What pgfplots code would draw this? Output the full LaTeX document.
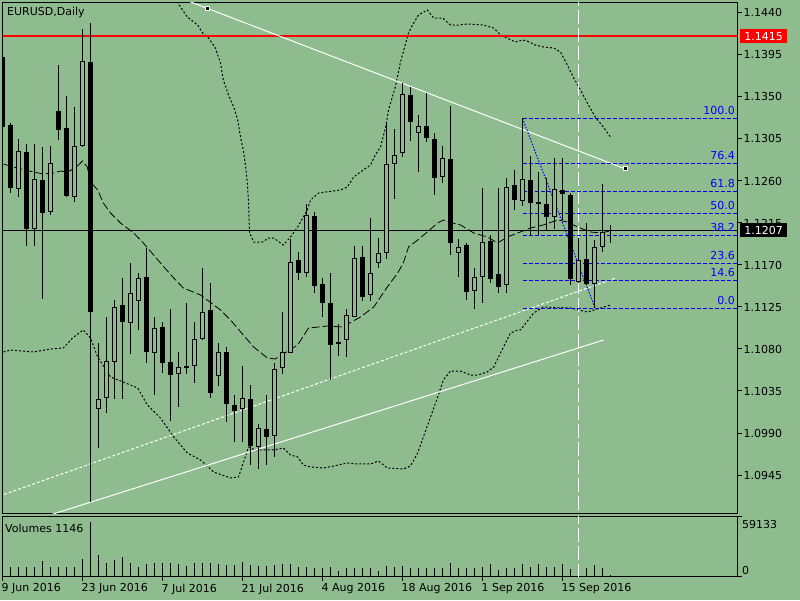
\documentclass[border=0pt]{standalone}
\usepackage{fontspec}
\setmainfont{DejaVu Sans}
\usepackage{pgfplots}
\pgfplotsset{compat=1.18}
\usepackage{pgfplotstable}
\definecolor{bg}{RGB}{143,188,143}
\definecolor{fibblue}{RGB}{0,0,255}
\definecolor{mtred}{RGB}{255,0,0}
\newcommand{\fs}{\fontsize{11}{13}\selectfont}
\tikzset{
  fib/.style={draw=fibblue, line width=1pt, dash pattern=on 4pt off 2pt},
  fiblab/.style={anchor=base east, inner sep=0pt, text=fibblue, font=\fs, yshift=4pt},
}

\pgfplotstableread{
i o h l c
0 1.13929 1.14004 1.13146 1.13179
1 1.13200 1.13221 1.12471 1.12525
2 1.12514 1.13050 1.12429 1.12921
3 1.12911 1.12996 1.11904 1.12086
4 1.12086 1.12996 1.11904 1.12621
5 1.12611 1.12964 1.11336 1.12257
6 1.12268 1.12975 1.12236 1.12793
7 1.13350 1.13843 1.13039 1.13146
8 1.13168 1.13511 1.12429 1.12439
9 1.12429 1.13393 1.12375 1.12975
10 1.12975 1.14229 1.12964 1.13886
11 1.13875 1.14293 1.09161 1.11196
12 1.10157 1.10864 1.09739 1.10264
13 1.10275 1.11143 1.10114 1.10671
14 1.10661 1.11325 1.10264 1.11250
15 1.11271 1.11561 1.10264 1.11089
16 1.11079 1.11721 1.10746 1.11400
17 1.11314 1.11614 1.11004 1.11561
18 1.11571 1.11882 1.10650 1.10768
19 1.10757 1.11143 1.10307 1.11025
20 1.11036 1.11089 1.10543 1.10650
21 1.10661 1.11229 1.10029 1.10521
22 1.10532 1.10768 1.10179 1.10607
23 1.10618 1.11293 1.10532 1.10596
24 1.10618 1.11089 1.10436 1.10907
25 1.10907 1.11668 1.10896 1.11196
26 1.11218 1.11507 1.10275 1.10329
27 1.10511 1.10864 1.10404 1.10768
28 1.10768 1.10821 1.10018 1.10211
29 1.10200 1.10307 1.09804 1.10136
30 1.10157 1.10618 1.09804 1.10275
31 1.10264 1.10414 1.09557 1.09761
32 1.09750 1.09996 1.09514 1.09954
33 1.09943 1.10307 1.09557 1.09857
34 1.09868 1.10650 1.09643 1.10586
35 1.10596 1.11196 1.10532 1.10768
36 1.10757 1.11979 1.10757 1.11732
37 1.11754 1.11839 1.11539 1.11614
38 1.11614 1.12354 1.11571 1.12236
39 1.12225 1.12268 1.11400 1.11475
40 1.11496 1.11561 1.11143 1.11293
41 1.11293 1.11614 1.10468 1.10843
42 1.10854 1.11068 1.10725 1.10875
43 1.10896 1.11229 1.10714 1.11164
44 1.11143 1.11904 1.11143 1.11775
45 1.11786 1.11904 1.11314 1.11357
46 1.11379 1.12204 1.11314 1.11614
47 1.11721 1.11989 1.11668 1.11829
48 1.11829 1.13221 1.11764 1.12782
49 1.12782 1.13157 1.12407 1.12879
50 1.12900 1.13650 1.12857 1.13532
51 1.13521 1.13607 1.13029 1.13232
52 1.13114 1.13307 1.12696 1.13189
53 1.13189 1.13543 1.13018 1.13061
54 1.13050 1.13114 1.12450 1.12632
55 1.12643 1.12975 1.12579 1.12846
56 1.12836 1.13404 1.11807 1.11936
57 1.11829 1.11979 1.11571 1.11893
58 1.11914 1.11936 1.11325 1.11411
59 1.11421 1.11668 1.11229 1.11571
60 1.11571 1.12525 1.11293 1.11946
61 1.11957 1.12021 1.11507 1.11550
62 1.11604 1.12525 1.11400 1.11464
63 1.11486 1.12632 1.11400 1.12536
64 1.12557 1.12718 1.12289 1.12396
65 1.12386 1.13275 1.12332 1.12621
66 1.12611 1.12868 1.12011 1.12364
67 1.12375 1.12696 1.12021 1.12354
68 1.12354 1.12632 1.12075 1.12214
69 1.12214 1.12846 1.12086 1.12514
70 1.12504 1.12846 1.12182 1.12461
71 1.12450 1.12471 1.11486 1.11550
72 1.11518 1.11989 1.11507 1.11754
73 1.11764 1.12150 1.11486 1.11496
74 1.11496 1.11968 1.11239 1.11893
75 1.11893 1.12568 1.11839 1.12054
76 1.12075 1.12129 1.11936 1.12075
}\candles

\pgfplotstableread{
i v
0 9855
1 9855
2 9855
3 9855
4 9855
5 15768
6 9855
7 9855
8 9855
9 9855
10 17050
11 54203
12 21386
13 13797
14 16458
15 19414
16 13107
17 9165
18 12122
19 13107
20 13797
21 13107
22 12122
23 10841
24 13797
25 13797
26 13797
27 12122
28 11530
29 11530
30 14783
31 11530
32 10841
33 10841
34 11530
35 12122
36 12516
37 9855
38 9165
39 8870
40 8870
41 9855
42 5913
43 8180
44 8180
45 8180
46 8870
47 5913
48 10545
49 9855
50 10545
51 8870
52 8870
53 8180
54 8870
55 8180
56 13797
57 8180
58 8870
59 8870
60 9855
61 12516
62 6603
63 8870
64 8870
65 12516
66 9855
67 12516
68 9855
69 9855
70 12516
71 7194
72 8870
73 8180
74 11530
75 8870
76 1146
}\volumes

\pgfplotstableread{
x p
20.4 1.14700
22 1.14497
23.1 1.14357
24.4 1.14271
25 1.14186
25.75 1.14132
26.6 1.14025
27.25 1.13864
27.6 1.13682
28.25 1.13522
28.9 1.13393
29.4 1.13254
29.75 1.13071
30.1 1.12932
30.4 1.12750
30.6 1.12579
30.75 1.12396
30.8 1.12214
30.9 1.12043
31.4 1.11946
32.5 1.11946
33.25 1.11989
33.9 1.11989
35.1 1.11914
36 1.12000
36.9 1.12107
38.1 1.12289
38.5 1.12396
39.5 1.12471
42.25 1.12504
43.1 1.12536
43.9 1.12643
45.1 1.12718
46 1.12771
46.6 1.12879
47.25 1.12964
47.9 1.13179
48.25 1.13361
49.1 1.13607
49.75 1.13875
50.4 1.14079
50.75 1.14186
51.25 1.14271
52 1.14379
53.1 1.14432
53.9 1.14346
55 1.14346
56 1.14271
57 1.14271
58.1 1.14282
60.1 1.14271
61.4 1.14239
62.25 1.14164
63.1 1.14132
64.1 1.14089
65 1.14111
65.6 1.14100
66.6 1.14057
67.6 1.14036
68.9 1.14025
69.75 1.13982
70.6 1.13843
71.4 1.13704
72.25 1.13575
73.1 1.13436
74.1 1.13286
75.1 1.13179
76 1.13071
}\bbupper

\pgfplotstableread{
x p
0.125 1.12782
1.4 1.12750
2.9 1.12718
3.9 1.12696
5.1 1.12675
6.4 1.12686
7.25 1.12707
8.1 1.12696
9.1 1.12739
10 1.12814
10.6 1.12750
11 1.12589
11.9 1.12504
12.6 1.12364
13.5 1.12257
14.75 1.12150
16.4 1.12043
17.6 1.11936
18.9 1.11807
19.75 1.11721
21.4 1.11561
22.6 1.11454
24.75 1.11379
25.6 1.11325
27.25 1.11218
28.5 1.11111
30.1 1.10950
31.4 1.10821
33.1 1.10704
34.1 1.10693
36.9 1.10843
38.25 1.11025
39.5 1.11036
40.6 1.11046
42.5 1.11036
44.75 1.11143
46.4 1.11250
48.1 1.11464
49.4 1.11614
50.1 1.11721
50.75 1.11893
51.9 1.11968
53.1 1.12054
54.4 1.12150
55.1 1.12182
56.25 1.12150
57.25 1.12129
58.9 1.12043
60.6 1.12000
61.9 1.11936
63.1 1.12000
64.4 1.12043
66 1.12096
67.6 1.12129
69.4 1.12182
70.6 1.12161
71.9 1.12107
73.5 1.12054
74.75 1.12043
76 1.12065
}\bbmiddle

\pgfplotstableread{
x p
0.125 1.10768
1 1.10789
3.9 1.10768
6 1.10800
7.6 1.10811
8.75 1.10918
10.1 1.11004
11 1.10918
11.9 1.10714
13.5 1.10500
15.1 1.10446
16.9 1.10382
18.1 1.10200
19.75 1.10061
21.4 1.09857
23.1 1.09686
24.75 1.09611
26.4 1.09482
28.5 1.09418
29.5 1.09429
30.1 1.09579
30.75 1.09750
31.6 1.09718
32.6 1.09718
33.9 1.09718
35.1 1.09739
36 1.09664
36.9 1.09643
37.6 1.09557
38.5 1.09536
40.1 1.09525
41.4 1.09546
43.1 1.09579
44.4 1.09568
46 1.09568
47 1.09600
48.1 1.09525
50.1 1.09514
51 1.09546
51.9 1.09686
52.6 1.09857
53.5 1.10071
54.4 1.10286
55.1 1.10468
56 1.10564
57.25 1.10564
58.5 1.10521
59.4 1.10521
60.6 1.10554
61.4 1.10607
62.25 1.10757
63.5 1.10971
64.4 1.11004
64.75 1.11004
66.4 1.11186
67.6 1.11250
71 1.11239
73.1 1.11196
74.75 1.11239
76 1.11271
}\bblower

\begin{document}
\begin{tikzpicture}
\fill[bg] (0,0) rectangle (800pt,600pt);
\useasboundingbox (0,0) rectangle (800pt,600pt);

\begin{axis}[
  name=main,
  at={(2.5pt,86.5pt)}, anchor=south west,
  width=735pt, height=511pt, scale only axis,
  xmin=0, xmax=91.875, ymin=1.090375, ymax=1.145125,
  axis background/.style={fill=bg},
  axis line style={black, line width=1pt},
  xtick=\empty,
  ytick={1.0945,1.0990,1.1035,1.1080,1.1125,1.1170,1.1215,1.1260,1.1305,1.1350,1.1395,1.1440},
  ytick pos=right, yticklabel pos=right,
  tick align=outside, major tick length=4pt,
  tick style={black, line width=1pt},
  scaled y ticks=false,
  /pgf/number format/assume math mode=true,
  yticklabel style={font=\fs, anchor=west, inner sep=0pt, xshift=2pt,
    /pgf/number format/fixed, /pgf/number format/fixed zerofill, /pgf/number format/precision=4},
]
% Bollinger bands
\addplot[black, line width=1pt, dash pattern=on 2pt off 2pt, forget plot] table[x=x,y=p] {\bbupper};
\addplot[black, line width=1pt, dash pattern=on 2pt off 2pt, forget plot] table[x=x,y=p] {\bblower};
\addplot[black, line width=0.8pt, dash pattern=on 8pt off 3pt, forget plot] table[x=x,y=p] {\bbmiddle};

% horizontal lines
\addplot[mtred, line width=2pt, forget plot] coordinates {(-1,1.1415) (93,1.1415)};
\addplot[black, line width=1pt, forget plot] coordinates {(-1,1.1207) (93,1.1207)};

% white trend lines
\addplot[white, line width=1pt, forget plot] coordinates {(5,1.08996) (75.125,1.10896)};
\addplot[white, line width=1pt, dash pattern=on 3pt off 2pt, forget plot] coordinates {(-1,1.09206) (76.6,1.11558)};
\addplot[white, line width=1pt, forget plot] coordinates {(22,1.14568) (77.875,1.12729)};

% vertical dashed line
\addplot[white, line width=1pt, dash pattern=on 14pt off 4pt, forget plot] coordinates {(72,1.085) (72,1.150)};

% Fibonacci retracement
\addplot[draw=fibblue, line width=1pt, dash pattern=on 1.5pt off 1.5pt, forget plot] coordinates {(65,1.13270) (74.1,1.11234)};
\addplot[fib, forget plot] coordinates {(65,1.132696) (93,1.132696)};
\addplot[fib, forget plot] coordinates {(65,1.127875) (93,1.127875)};
\addplot[fib, forget plot] coordinates {(65,1.124875) (93,1.124875)};
\addplot[fib, forget plot] coordinates {(65,1.122518) (93,1.122518)};
\addplot[fib, forget plot] coordinates {(65,1.120161) (93,1.120161)};
\addplot[fib, forget plot] coordinates {(65,1.117161) (93,1.117161)};
\addplot[fib, forget plot] coordinates {(65,1.115339) (93,1.115339)};
\addplot[fib, forget plot] coordinates {(65,1.112339) (93,1.112339)};

% candles: wicks
\addplot[draw=none, mark=none, forget plot,
  error bars/y dir=minus, error bars/y explicit, error bars/error mark=none,
  error bars/error bar style={draw=black, line width=1pt, solid}]
  table[x=i, y=h, y error minus expr={\thisrow{h}-\thisrow{l}}] {\candles};
% bodies
\addplot[draw=none, mark=none, forget plot,
  error bars/y dir=minus, error bars/y explicit, error bars/error mark=none,
  error bars/error bar style={draw=black, line width=5pt, solid}]
  table[x=i, y expr={max(\thisrow{o},\thisrow{c})}, y error minus expr={max(abs(\thisrow{o}-\thisrow{c}),0.000107)}] {\candles};
% hollow interiors
\addplot[draw=none, mark=none, forget plot,
  restrict expr to domain={\thisrow{c}-\thisrow{o}}{0.00025:1},
  error bars/y dir=minus, error bars/y explicit, error bars/error mark=none,
  error bars/error bar style={draw=bg, line width=3pt, solid}]
  table[x=i, y expr={\thisrow{c}-0.000107}, y error minus expr={\thisrow{c}-\thisrow{o}-0.000214}] {\candles};

% trend line anchors
\addplot[only marks, mark=square*, mark size=2pt, mark options={fill=black, draw=white, line width=1pt}, forget plot]
  coordinates {(25.59,1.14450) (77.875,1.12729)};

% fib labels
\node[fiblab] at (axis cs:91.56,1.132696) {100.0};
\node[fiblab] at (axis cs:91.56,1.127875) {76.4};
\node[fiblab] at (axis cs:91.56,1.124875) {61.8};
\node[fiblab] at (axis cs:91.56,1.122518) {50.0};
\node[fiblab] at (axis cs:91.56,1.120161) {38.2};
\node[fiblab] at (axis cs:91.56,1.117161) {23.6};
\node[fiblab] at (axis cs:91.56,1.115339) {14.6};
\node[fiblab] at (axis cs:91.56,1.112339) {0.0};
\coordinate (redlab) at (axis cs:91.875,1.1415);
\coordinate (blklab) at (axis cs:91.875,1.1207);
\end{axis}

\begin{axis}[
  name=vol,
  at={(2.5pt,23.5pt)}, anchor=south west,
  width=735pt, height=60pt, scale only axis,
  xmin=0, xmax=91.875, ymin=0, ymax=59133,
  axis background/.style={fill=bg},
  axis line style={black, line width=1pt},
  xtick={0,10,20,30,40,50,60,70},
  xticklabels={9 Jun 2016,23 Jun 2016,7 Jul 2016,21 Jul 2016,4 Aug 2016,18 Aug 2016,1 Sep 2016,15 Sep 2016},
  xtick pos=bottom,
  ytick={0,59133}, yticklabels={,}, ytick pos=right,
  tick align=outside, major tick length=4pt,
  tick style={black, line width=1pt},
  scaled y ticks=false,
  xticklabel style={font=\fs, anchor=north west, inner sep=0pt, yshift=-3pt, xshift=-1pt},
]
\addplot[ycomb, black, line width=1pt, mark=none, forget plot] table[x=i,y=v] {\volumes};
\addplot[white, line width=1pt, dash pattern=on 14pt off 4pt, forget plot] coordinates {(72,-1000) (72,60000)};
\end{axis}

% labels
\node[anchor=west, inner sep=0pt, font=\fs] at (7pt,588pt) {EURUSD,Daily};
\node[anchor=west, inner sep=0pt, font=\fs] at (5pt,72pt) {Volumes 1146};
\node[anchor=west, inner sep=0pt, font=\fs] at (742pt,76pt) {59133};
\node[anchor=west, inner sep=0pt, font=\fs] at (742pt,30pt) {0};
\node[anchor=west, fill=mtred, text=white, font=\fs, inner sep=0pt, minimum width=47pt, minimum height=14pt, xshift=2.5pt] at (redlab) {1.1415};
\node[anchor=west, fill=black, text=white, font=\fs, inner sep=0pt, minimum width=47pt, minimum height=14pt, xshift=2.5pt] at (blklab) {1.1207};
\end{tikzpicture}
\end{document}
